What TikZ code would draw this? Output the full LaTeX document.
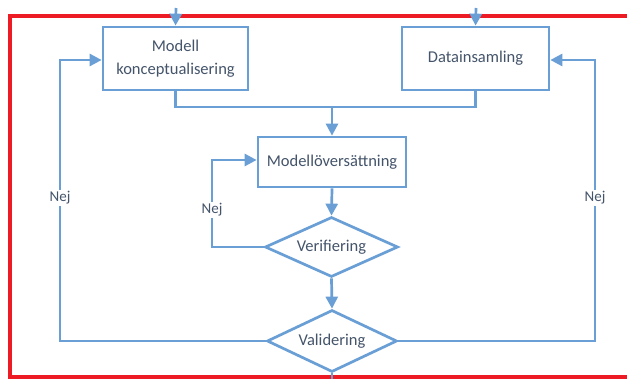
\documentclass[tikz,border=0pt]{standalone}
\usepackage{fontspec}
\setmainfont{Carlito}
\usetikzlibrary{arrows.meta,shapes.geometric}
\definecolor{flowblue}{HTML}{6A9FD6}
\definecolor{flowtext}{HTML}{44546A}
\definecolor{frame}{HTML}{ED1C24}
\tikzset{
  flow/.style={draw=flowblue, line width=2.7pt},
  arr/.style={flow, -{Triangle[length=12pt,width=12pt]}},
  procbox/.style={draw=flowblue, line width=2.7pt, fill=white, rectangle, align=center,
    text=flowtext, font=\fontsize{16.5}{23}\selectfont, inner sep=0pt},
  decision/.style={draw=flowblue, line width=2.7pt, fill=white, diamond, aspect=2.2,
    text=flowtext, font=\fontsize{16.5}{23}\selectfont, inner sep=0pt},
  nejlabel/.style={fill=white, text=flowtext, font=\fontsize{15}{18}\selectfont, inner sep=2pt}
}
\begin{document}
\begin{tikzpicture}[x=1pt, y=-1pt]
  \useasboundingbox (0,0) rectangle (627,379);
  \clip (0,0) rectangle (627,379);
  \fill[white] (0,0) rectangle (627,379);

  % outer frame, right side runs past the page
  \draw[frame, line width=3.2pt] (700,16) -- (10,16) -- (10,377) -- (700,377);

  % process steps
  \node[procbox, minimum width=145pt, minimum height=63pt] (mk) at (175.5,58.5) {Modell\\konceptualisering};
  \node[procbox, minimum width=147pt, minimum height=63pt] (di) at (475.5,58.5) {Datainsamling};
  \node[procbox, minimum width=148pt, minimum height=50pt] (mo) at (332,162) {Modellöversättning};
  \node[decision, minimum width=133pt, minimum height=60pt] (ve) at (331.5,247) {Verifiering};
  \node[decision, minimum width=130pt, minimum height=62pt] (va) at (332,341) {Validering};

  % helper points for the routed connectors
  \coordinate (tA) at (176,8);
  \coordinate (tB) at (476,8);
  \coordinate (m) at (332,107);
  \coordinate (lL) at (60,60);
  \coordinate (lR) at (595,60);
  \coordinate (lM) at (212,160);
  \coordinate (bV) at (332,385);

  % incoming arrows from above
  \draw[arr] (tA) -- (mk.north);
  \draw[arr] (tB) -- (di.north);

  % both inputs join into the translation step
  \draw[flow] (mk.south) |- (m) -| (di.south);
  \draw[arr] (m) -- (mo.north);
  \draw[arr] (mo.south) -- (ve.north);
  \draw[arr] (ve.south) -- (va.north);
  \draw[flow] (va.south) -- (bV);

  % feedback loops
  \draw[arr] (ve.west) -| (lM) -- (mo.west |- lM);
  \node[nejlabel] (n1) at (212,210) {Nej};
  \draw[arr] (va.west) -| (lL) -- (mk.west |- lL);
  \node[nejlabel] (n2) at (60,198) {Nej};
  \draw[arr] (va.east) -| (lR) -- (di.east |- lR);
  \node[nejlabel] (n3) at (595,198) {Nej};
\end{tikzpicture}
\end{document}
